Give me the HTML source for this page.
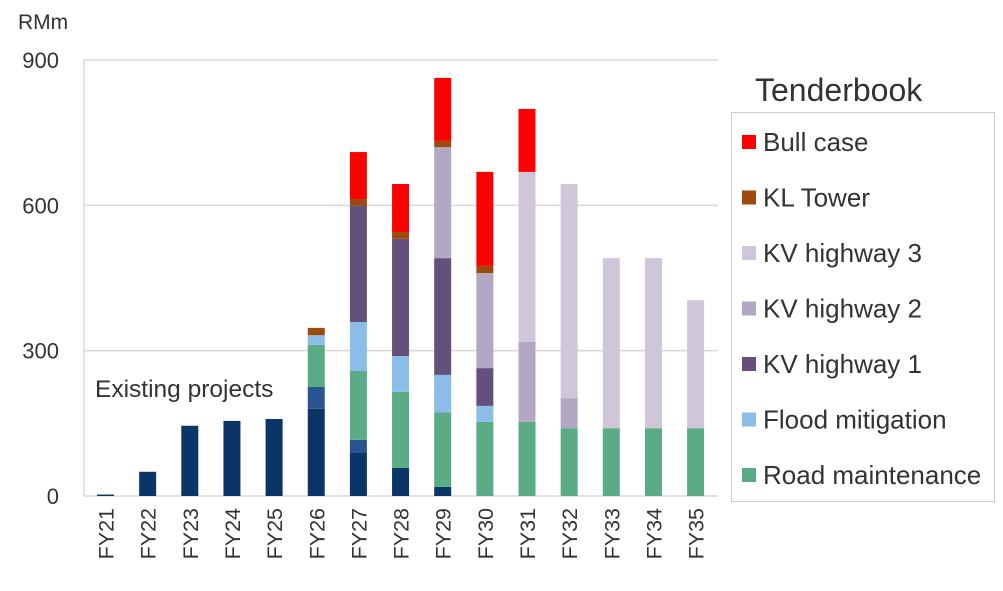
<!DOCTYPE html>
<html><head><meta charset="utf-8"><style>
body{margin:0;background:#fff;font-family:"Liberation Sans",sans-serif}
svg text{font-family:"Liberation Sans",sans-serif;fill:#333}
</style></head><body>
<svg id="c" width="1003" height="586" xmlns="http://www.w3.org/2000/svg">
<text x="18" y="29" font-size="21">RMm</text>
<text x="95" y="397" font-size="24.5" fill="#111">Existing projects</text>
<g id="plot"></g>
<g>
<text x="755" y="101" font-size="32">Tenderbook</text>
<rect x="731.5" y="112.5" width="263" height="389" fill="none" stroke="#ccc"/>
<g id="leg"></g>
</g>
</svg>
<script>
const categories=["FY21","FY22","FY23","FY24","FY25","FY26","FY27","FY28","FY29","FY30","FY31","FY32","FY33","FY34","FY35"];
const existingDark=[3,50,145,155,159,180,90,58,19,0,0,0,0,0,0];
const existingLight=[0,0,0,0,0,45,26,0,0,0,0,0,0,0,0];
const roadMaintenance=[0,0,0,0,0,87,142,157,154,153,153,140,140,140,140];
const floodMitigation=[0,0,0,0,0,20,101,74,77,33,0,0,0,0,0];
const kvHighway1=[0,0,0,0,0,0,240,242,241,78,0,0,0,0,0];
const kvHighway2=[0,0,0,0,0,0,0,0,229,196,165,62,0,0,0];
const kvHighway3=[0,0,0,0,0,0,0,0,0,0,351,442,351,351,264];
const klTower=[0,0,0,0,0,15,14,14,13,15,0,0,0,0,0];
const bullCase=[0,0,0,0,0,0,97,99,130,194,130,0,0,0,0];
const yTicks=[0,300,600,900];
const series=[
 ["existing-projects",existingDark,"#0b3566",null],
 ["existing-projects-recent",existingLight,"#2b5590",null],
 ["road-maintenance",roadMaintenance,"#5aab86","Road maintenance"],
 ["flood-mitigation",floodMitigation,"#8bbde9","Flood mitigation"],
 ["kv-highway-1",kvHighway1,"#64507a","KV highway 1"],
 ["kv-highway-2",kvHighway2,"#b3a8c4","KV highway 2"],
 ["kv-highway-3",kvHighway3,"#cfc6da","KV highway 3"],
 ["kl-tower",klTower,"#9c4a0d","KL Tower"],
 ["bull-case",bullCase,"#ff0000","Bull case"]];
const NS="http://www.w3.org/2000/svg";
const X0=84,X1=718,Y0=496,YT=60,YMAX=900;
const y=v=>Y0-(v/YMAX)*(Y0-YT);
const xc=i=>105.5+i*42.15;
const plot=document.getElementById('plot');
function mk(t,a,p){const e=document.createElementNS(NS,t);for(const k in a)e.setAttribute(k,a[k]);(p||plot).appendChild(e);return e;}
yTicks.forEach(t=>{
 const l=mk('line',{x1:X0,x2:X1,y1:y(t),y2:y(t),stroke:'#d9d9d9','stroke-width':1.5});
 
 
 const tx=mk('text',{x:59,y:y(t)+8,'text-anchor':'end','font-size':22});
 tx.textContent=t;
 
 
});
const ax=mk('line',{x1:X0,x2:X0,y1:YT,y2:Y0,stroke:'#d9d9d9','stroke-width':1.5});


categories.forEach((c,i)=>{
 let acc=0;
 series.forEach(s=>{
  const v=s[1][i];if(!v)return;
  const r=mk('rect',{x:xc(i)-8.5,y:y(acc+v),width:17,height:y(acc)-y(acc+v),fill:s[2]});
  
  
  acc+=v;
 });
 const t=mk('text',{x:0,y:0,'font-size':21.5,'text-anchor':'end',transform:`translate(${xc(i)+8},508) rotate(-90)`});
 t.textContent=c;
 
 
});
const leg=document.getElementById('leg');
series.filter(s=>s[3]).reverse().forEach((s,k)=>{
 const yy=142+k*55.5;
 const r=mk('rect',{x:742,y:yy-7,width:14,height:14,fill:s[2]},leg);
 
 
 const t=mk('text',{x:763,y:yy+9,'font-size':26},leg);
 t.textContent=s[3];
 
 
});
</script>
</body></html>
